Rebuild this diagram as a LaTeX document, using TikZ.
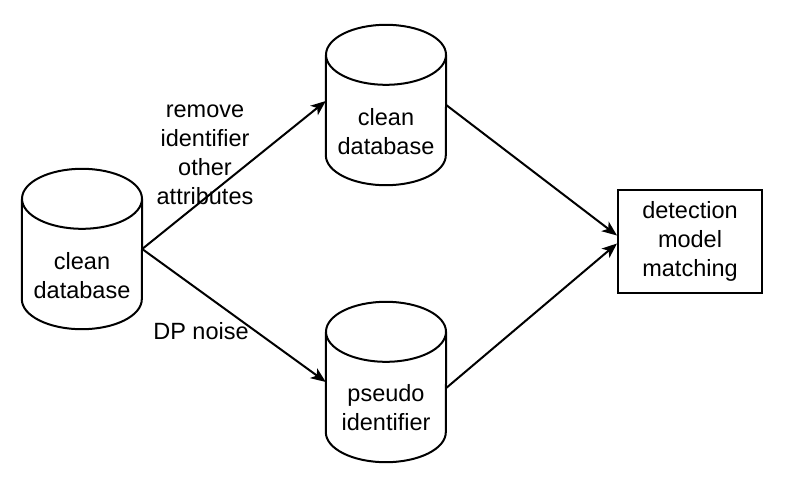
\documentclass[tikz,border=0pt]{standalone}
\usepackage{fontspec}
\setmainfont{Liberation Sans}
\usetikzlibrary{calc,arrows.meta}
\tikzset{
  cylbox/.style={rectangle, draw=none, minimum width=120pt, minimum height=160pt, inner sep=0pt},
  txt/.style={align=center, inner sep=0pt, font=\fontsize{23.5}{29}\selectfont},
  procbox/.style={rectangle, draw, line width=2pt, minimum width=144pt, minimum height=103pt, inner sep=0pt, align=center, font=\fontsize{23.5}{29}\selectfont},
  conn/.style={line width=2pt, -{Stealth[length=15pt, width=12pt, inset=4pt]}},
  outline/.style={line width=2pt}
}
\newcommand\drawcyl[1]{%
  \draw[outline] ($(#1.north)+(0,30)$) ellipse [x radius=60pt, y radius=30pt];
  \draw[outline] ($(#1.north west)+(0,30)$) -- ($(#1.south west)+(0,-30)$)
    arc[start angle=180, end angle=360, x radius=60pt, y radius=30pt]
    -- ($(#1.north east)+(0,30)$);
}
\begin{document}
\begin{tikzpicture}[x=1pt, y=-1pt]
  \useasboundingbox[fill=white] (0,0) rectangle (789,485);
  \node[cylbox] (c1) at (82,249) {};
  \node[cylbox] (c2) at (386,105) {};
  \node[cylbox] (c3) at (386,382) {};
  \drawcyl{c1}
  \drawcyl{c2}
  \drawcyl{c3}
  \node[txt] (t1) at ($(c1.center)+(0,27)$) {clean\\database};
  \node[txt] (t2) at ($(c2.center)+(0,27)$) {clean\\database};
  \node[txt] (t3) at ($(c3.center)+(0,26)$) {pseudo\\identifier};
  \node[procbox] (b) at (690,241.5) {detection\\model\\matching};
  \node[txt] (l1) at (205,155) {remove\\identifier\\other\\attributes};
  \node[txt] (l2) at (201,331) {DP noise};
  \draw[conn] (c1.east) -- ($(c2.west)+(0,-4)$);
  \draw[conn] (c1.east) -- (c3.west);
  \draw[conn] (c2.east) -- ($(b.west)+(0,-6)$);
  \draw[conn] ($(c3.east)+(0,6)$) -- ($(b.west)+(0,2)$);
\end{tikzpicture}
\end{document}
